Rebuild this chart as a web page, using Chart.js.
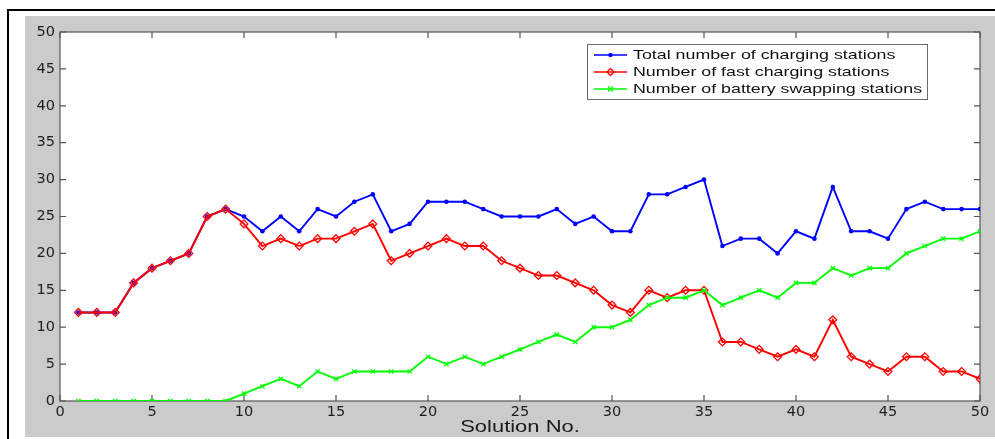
<!DOCTYPE html>
<html>
<head>
<meta charset="utf-8">
<title>Charging station configuration per solution</title>
<script src="https://cdn.jsdelivr.net/npm/chart.js@4.4.1/dist/chart.umd.min.js"></script>
<style>
  html, body { margin: 0; padding: 0; background: #ffffff; }
  #wrap { width: 995px; height: 439px; position: relative; }
</style>
</head>
<body>
<div id="wrap"><canvas id="c" width="995" height="439"></canvas></div>
<script>
// Solution index along the horizontal axis
const solutionNo = [1,2,3,4,5,6,7,8,9,10,11,12,13,14,15,16,17,18,19,20,21,22,23,24,25,26,27,28,29,30,31,32,33,34,35,36,37,38,39,40,41,42,43,44,45,46,47,48,49,50];

// Station counts per solution
const totalStations = [12,12,12,16,18,19,20,25,26,25,23,25,23,26,25,27,28,23,24,27,27,27,26,25,25,25,26,24,25,23,23,28,28,29,30,21,22,22,20,23,22,29,23,23,22,26,27,26,26,26];
const fastStations  = [12,12,12,16,18,19,20,25,26,24,21,22,21,22,22,23,24,19,20,21,22,21,21,19,18,17,17,16,15,13,12,15,14,15,15,8,8,7,6,7,6,11,6,5,4,6,6,4,4,3];
const swapStations  = [0,0,0,0,0,0,0,0,0,1,2,3,2,4,3,4,4,4,4,6,5,6,5,6,7,8,9,8,10,10,11,13,14,14,15,13,14,15,14,16,16,18,17,18,18,20,21,22,22,23];

// Axis ranges and labels
const xRange = [0, 50];
const yRange = [0, 50];
const tickStep = 5;
const xTitle = 'Solution No.';
const seriesNames = [
  'Total number of charging stations',
  'Number of fast charging stations',
  'Number of battery swapping stations'
];

const toPoints = (vals) => vals.map((v, i) => ({ x: solutionNo[i], y: v }));

const TEXT_FONT = '"Liberation Sans", Arial, sans-serif';
const TEXT_STRETCH = 1.33;   // the figure's lettering is set wide

function stretchedText(ctx, text, x, y, size, align) {
  ctx.save();
  ctx.font = size + 'px ' + TEXT_FONT;
  ctx.textBaseline = 'middle';
  const w = ctx.measureText(text).width * TEXT_STRETCH;
  let x0 = x;
  if (align === 'center') x0 = x - w / 2;
  ctx.translate(x0, y);
  ctx.scale(TEXT_STRETCH, 1);
  ctx.textAlign = 'left';
  ctx.fillText(text, 0, 0);
  ctx.restore();
}

function drawMarker(ctx, style, x, y, color) {
  ctx.save();
  ctx.strokeStyle = color;
  ctx.fillStyle = color;
  ctx.lineWidth = 1.3;
  ctx.beginPath();
  if (style === 'circle') {
    ctx.arc(x, y, 2.2, 0, Math.PI * 2);
    ctx.fill();
  } else if (style === 'rectRot') {
    ctx.moveTo(x, y - 3.5); ctx.lineTo(x + 3.5, y); ctx.lineTo(x, y + 3.5); ctx.lineTo(x - 3.5, y); ctx.closePath();
    ctx.stroke();
  } else {
    ctx.moveTo(x - 2.5, y - 2.5); ctx.lineTo(x + 2.5, y + 2.5);
    ctx.moveTo(x + 2.5, y - 2.5); ctx.lineTo(x - 2.5, y + 2.5);
    ctx.stroke();
  }
  ctx.restore();
}

// Figure background, axes frame with inward ticks, title and legend
const figurePlugin = {
  id: 'figure',
  beforeDraw(chart) {
    const ctx = chart.ctx;
    const a = chart.chartArea;
    ctx.save();
    ctx.fillStyle = '#ffffff';
    ctx.fillRect(0, 0, chart.width, chart.height);
    ctx.fillStyle = '#cbcbcb';
    ctx.fillRect(25, 16, chart.width - 25, 421);
    ctx.strokeStyle = '#000000';
    ctx.lineWidth = 2;
    ctx.beginPath();
    ctx.moveTo(8, chart.height);
    ctx.lineTo(8, 10);
    ctx.lineTo(chart.width, 10);
    ctx.stroke();
    ctx.fillStyle = '#ffffff';
    ctx.fillRect(a.left, a.top, a.right - a.left, a.bottom - a.top);
    ctx.restore();
  },
  beforeDatasetsDraw(chart) {
    const ctx = chart.ctx;
    const a = chart.chartArea;
    const xs = chart.scales.x, ys = chart.scales.y;
    ctx.save();
    ctx.strokeStyle = '#555555';
    ctx.lineWidth = 1.2;
    ctx.strokeRect(a.left, a.top, a.right - a.left, a.bottom - a.top);
    ctx.beginPath();
    const tl = 6;
    xs.ticks.forEach(t => {
      const px = xs.getPixelForValue(t.value);
      ctx.moveTo(px, a.bottom); ctx.lineTo(px, a.bottom - tl);
      ctx.moveTo(px, a.top); ctx.lineTo(px, a.top + tl);
    });
    ys.ticks.forEach(t => {
      const py = ys.getPixelForValue(t.value);
      ctx.moveTo(a.left, py); ctx.lineTo(a.left + tl, py);
      ctx.moveTo(a.right, py); ctx.lineTo(a.right - tl, py);
    });
    ctx.stroke();
    ctx.restore();
  },
  afterDraw(chart) {
    const ctx = chart.ctx;
    const a = chart.chartArea;
    ctx.save();
    ctx.fillStyle = '#1a1a1a';
    stretchedText(ctx, xTitle, (a.left + a.right) / 2, 427, 16.5, 'center');

    // legend box
    const lx = 587, ly = 44, lw = 340, lh = 55;
    ctx.fillStyle = '#ffffff';
    ctx.fillRect(lx, ly, lw, lh);
    ctx.strokeStyle = '#6a6a6a';
    ctx.lineWidth = 1;
    ctx.strokeRect(lx + 0.5, ly + 0.5, lw, lh);
    chart.data.datasets.forEach((ds, i) => {
      const ry = 55 + i * 17;
      ctx.strokeStyle = ds.borderColor;
      ctx.lineWidth = 1.5;
      ctx.beginPath();
      ctx.moveTo(594, ry); ctx.lineTo(627, ry);
      ctx.stroke();
      drawMarker(ctx, ds.pointStyle, 610.5, ry, ds.borderColor);
      ctx.fillStyle = '#111111';
      stretchedText(ctx, ds.label, 633, ry + 0.5, 13.4, 'left');
    });
    ctx.restore();
  }
};

const tickFont = { family: '"DejaVu Sans", "Liberation Sans", sans-serif', size: 14.5 };

new Chart(document.getElementById('c'), {
  type: 'line',
  data: {
    datasets: [
      {
        label: seriesNames[0],
        data: toPoints(totalStations),
        borderColor: '#0000ff',
        backgroundColor: '#0000ff',
        borderWidth: 1.9,
        pointStyle: 'circle',
        pointRadius: 2.3,
        pointBorderWidth: 0,
        order: 3
      },
      {
        label: seriesNames[1],
        data: toPoints(fastStations),
        borderColor: '#ff0000',
        backgroundColor: 'rgba(0,0,0,0)',
        borderWidth: 1.9,
        pointStyle: 'rectRot',
        pointRadius: 3.9,
        pointBorderWidth: 1.3,
        order: 2
      },
      {
        label: seriesNames[2],
        data: toPoints(swapStations),
        borderColor: '#00ff00',
        backgroundColor: '#00ff00',
        borderWidth: 1.9,
        pointStyle: 'crossRot',
        pointRadius: 3,
        pointBorderWidth: 1.3,
        order: 1
      }
    ]
  },
  options: {
    responsive: false,
    animation: false,
    devicePixelRatio: 1,
    layout: { padding: { top: 32, right: 15, left: 0, bottom: 0 } },
    plugins: {
      legend: { display: false },
      tooltip: { enabled: false }
    },
    elements: { line: { tension: 0 } },
    scales: {
      x: {
        type: 'linear',
        min: xRange[0],
        max: xRange[1],
        grid: { display: false, drawTicks: false },
        border: { display: false },
        ticks: { stepSize: tickStep, color: '#1e1e1e', font: tickFont, padding: 3, maxRotation: 0, autoSkip: false },
        afterFit(scale) { scale.height = 38; }
      },
      y: {
        min: yRange[0],
        max: yRange[1],
        grid: { display: false, drawTicks: false },
        border: { display: false },
        ticks: { stepSize: tickStep, color: '#1e1e1e', font: tickFont, padding: 5 },
        afterFit(scale) { scale.width = 60; }
      }
    }
  },
  plugins: [figurePlugin]
});
</script>
</body>
</html>
